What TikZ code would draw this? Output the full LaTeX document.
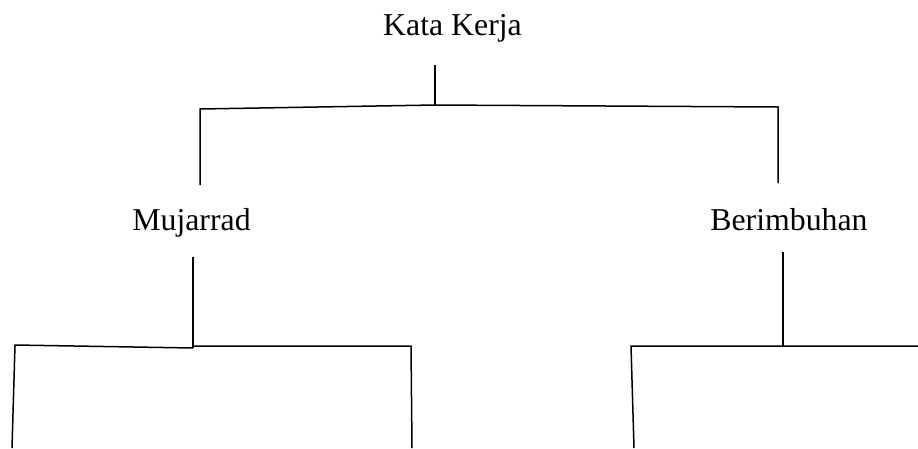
\documentclass[tikz,border=0pt]{standalone}
\usepackage{fontspec}
\setmainfont{Liberation Serif}
\begin{document}
\begin{tikzpicture}[x=1pt,y=-1pt,
  lbl/.style={anchor=base,inner sep=0pt,font=\fontsize{31.8}{38}\selectfont},
  link/.style={line width=1.5pt,line join=miter}]
\useasboundingbox (0,0) rectangle (918,448);
% labels
\node[lbl] (kk) at (452.5,35.5) {Kata Kerja};
\node[lbl] (mu) at (191.5,230) {Mujarrad};
\node[lbl] (be) at (789,230) {Berimbuhan};
% top bracket
\coordinate (kt) at (435,65);
\coordinate (kj) at (435,105);
\coordinate (kl) at (200,109);
\coordinate (klb) at (200,185);
\coordinate (kr) at (778,107);
\coordinate (krb) at (778,183);
\draw[link] (kt) -- (kj);
\draw[link] (klb) -- (kl) -- (kj) -- (kr) -- (krb);
% Mujarrad bracket
\coordinate (mt) at (193,257);
\coordinate (mj) at (193,348);
\coordinate (ml) at (15,345);
\coordinate (mlb) at (12,448);
\coordinate (mjr) at (193,346);
\coordinate (mr) at (411,346);
\coordinate (mrb) at (412,448);
\draw[link] (mt) -- (mj);
\draw[link] (mlb) -- (ml) -- (mj);
\draw[link] (mjr) -- (mr) -- (mrb);
% Berimbuhan bracket
\coordinate (bt) at (783,252);
\coordinate (bj) at (783,346);
\coordinate (bl) at (631,346);
\coordinate (blb) at (634,448);
\coordinate (br) at (918,346);
\draw[link] (bt) -- (bj);
\draw[link] (blb) -- (bl) -- (bj) -- (br);
\end{tikzpicture}
\end{document}
